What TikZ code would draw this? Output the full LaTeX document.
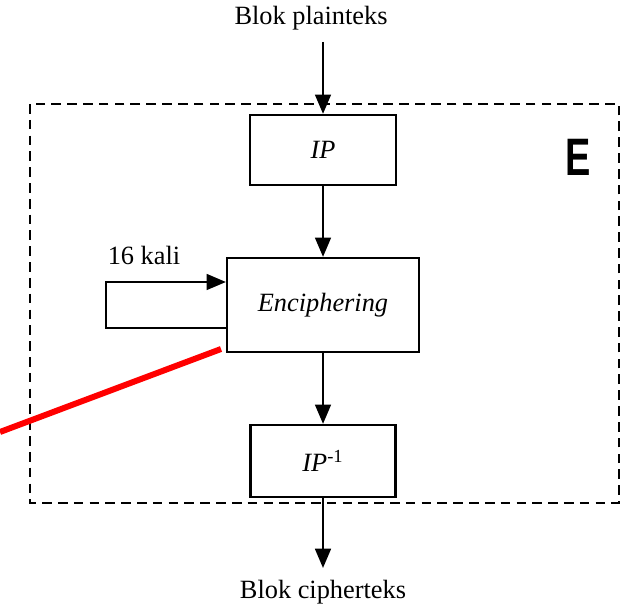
\documentclass[tikz,border=0pt]{standalone}
\usepackage{fontspec}
\setmainfont{Liberation Serif}
\setsansfont{Liberation Sans}
\usetikzlibrary{positioning}
\usetikzlibrary{arrows.meta}
\usetikzlibrary{calc}

\tikzset{
  blok/.style={draw, line width=1.3pt, font=\fontsize{15}{18}\selectfont},
  panah/.style={line width=1.3pt, -{Triangle[length=11pt,width=9pt]}},
  teks/.style={font=\fontsize{15}{18}\selectfont, inner sep=0pt}
}

\begin{document}
\begin{tikzpicture}[x=0.02cm, y=-0.02cm]
                \useasboundingbox (0,0) rectangle (628,607);
                % Define the coordinates of the frame and the loop
                \coordinate (ka) at (30,104);
                \coordinate (kb) at (619,503);
                \coordinate (ta) at (323,42);
                \coordinate (tb) at (323,568);
                \coordinate (la) at (106,282);
                \coordinate (lb) at (106,328);
                \coordinate (ma) at (0,432);
                \coordinate (mb) at (221,349);

                \draw[line width=1.3pt, dash pattern=on 5.5pt off 3.5pt] (ka) rectangle (kb);

                \node[teks] (masuk) at (311,18) {Blok plainteks};
                \node[blok, minimum width=2.92cm, minimum height=1.4cm] (ip) at (323,150) {\textit{IP}};
                \node[blok, minimum width=3.84cm, minimum height=1.88cm] (enc) at (323,305) {\textit{Enciphering}};
                \node[blok, minimum width=2.9cm, minimum height=1.44cm] (ipinv) at (323,461) {\textit{IP}\textsuperscript{-1}};
                \node[teks] (keluar) at (323,592) {Blok cipherteks};
                \node[teks] (kali) at (144,255) {16 kali};
                \node[font=\sffamily\bfseries\fontsize{30}{34}\selectfont, xscale=0.72, inner sep=0pt] (e) at (578,157) {E};

                \draw[panah] (ta) -- (ip.north);
                \draw[panah] (ip) -- (enc);
                \draw[panah] (enc) -- (ipinv);
                \draw[panah] (ipinv.south) -- (tb);
                \draw[panah] (enc.west |- lb) -- (lb) -- (la) -- (enc.west |- la);

                \draw[red, line width=3.4pt] (ma) -- (mb);

            \end{tikzpicture}
\end{document}
